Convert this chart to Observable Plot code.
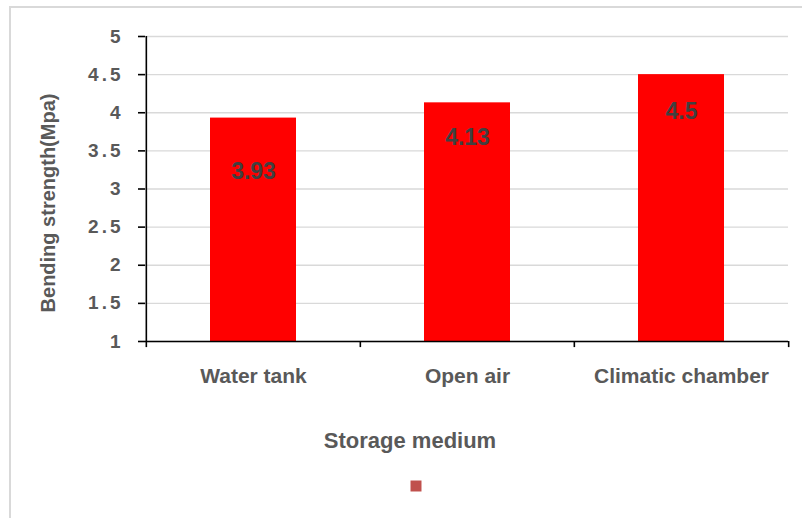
<!DOCTYPE html>
<html><head><meta charset="utf-8">
<script src="https://cdn.jsdelivr.net/npm/d3@7"></script>
<script src="https://cdn.jsdelivr.net/npm/@observablehq/plot@0.6"></script>
<style>
html,body{margin:0;padding:0;background:#fff;overflow:hidden;}
#chart{position:relative;width:802px;height:518px;}
#chart svg{display:block;}
#chart [aria-label="y-axis tick label"]{letter-spacing:3px;}
#border{position:absolute;left:9px;top:6px;right:0;bottom:0;border-top:2px solid #d9d9d9;border-left:2px solid #d9d9d9;pointer-events:none;}
</style></head>
<body><div id="chart"><div id="border"></div></div>
<script>
const categories = ["Water tank", "Open air", "Climatic chamber"];
const values = [3.93, 4.13, 4.5];
const yTicks = [1, 1.5, 2, 2.5, 3, 3.5, 4, 4.5, 5];
const xTitle = "Storage medium";
const yTitle = "Bending strength(Mpa)";

const data = categories.map((c, i) => ({category: c, value: values[i]}));

const W = 802, H = 518, mL = 145, mR = 14, mT = 36, mB = 177;
const step = (W - mL - mR) / categories.length;
const font = "'Liberation Sans', Arial, sans-serif";
const grey = "#595959";

const labelText = (cat, dy) => Plot.text(data.filter(d => d.category === cat), {
  x: "category", y: "value", text: d => String(d.value), dy,
  fontSize: 23, fontWeight: "bold", fill: "#404040"
});

const chart = Plot.plot({
  width: W, height: H,
  marginLeft: mL, marginRight: mR, marginTop: mT, marginBottom: mB,
  style: {fontFamily: font, color: grey, background: "transparent"},
  x: {domain: categories, paddingInner: 0.6, paddingOuter: 0.3},
  y: {domain: [1, 5]},
  marks: [
    Plot.ruleY(yTicks, {stroke: "#d9d9d9", strokeWidth: 1.4}),
    Plot.barY(data, {x: "category", y1: 1, y2: "value", fill: "#ff0000"}),
    Plot.ruleX(categories.slice(0, 1), {x: d => d, dx: -step / 2, y1: 1, y2: 5, stroke: "black", strokeWidth: 1.6}),
    Plot.ruleY([1], {stroke: "black", strokeWidth: 1.6}),
    Plot.ruleX(categories, {x: d => d, dx: -step / 2, y1: 1, y2: 0.92, stroke: "black", strokeWidth: 1.6}),
    Plot.ruleX(categories.slice(-1), {x: d => d, dx: step / 2, y1: 1, y2: 0.92, stroke: "black", strokeWidth: 1.6}),
    Plot.axisY(yTicks, {tickSize: 7, tickPadding: 15, tickFormat: d => String(d), fontSize: 19, fontWeight: "bold", fill: grey, stroke: "black", strokeWidth: 1.6, label: null}),
    Plot.axisX({tickSize: 0, tickPadding: 27, fontSize: 21, fontWeight: "bold", fill: grey, label: null}),
    labelText(categories[0], 54),
    labelText(categories[1], 35),
    labelText(categories[2], 37),
    Plot.text([yTitle], {frameAnchor: "left", textAnchor: "middle", rotate: -90, dx: -97, dy: 14, fontSize: 20, fontWeight: "bold", fill: grey}),
    Plot.text([xTitle], {frameAnchor: "bottom", dx: -57, dy: 106, fontSize: 22, fontWeight: "bold", fill: grey}),
    Plot.dot([0], {frameAnchor: "bottom", dx: -51, dy: 144.5, symbol: "square", r: 6.2, fill: "#c0504d", stroke: "none"})
  ]
});
document.getElementById("chart").prepend(chart);
</script>
</body></html>
